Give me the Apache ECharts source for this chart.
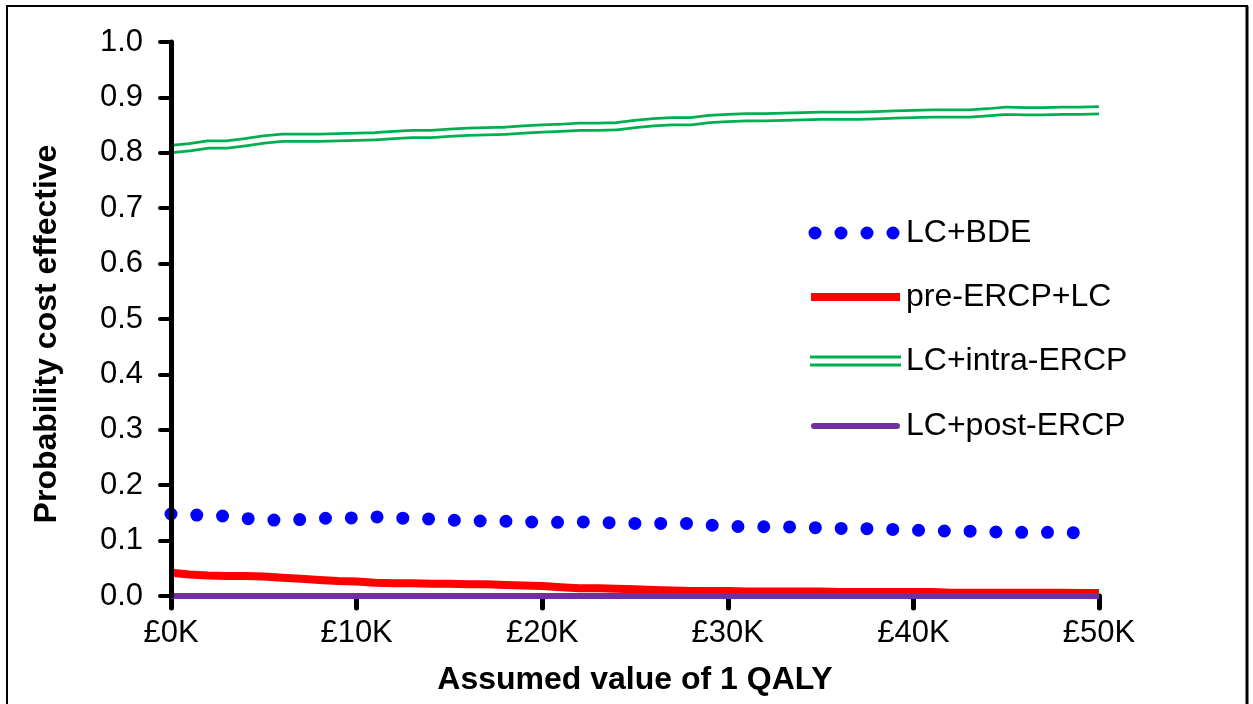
<!DOCTYPE html>
<html>
<head>
<meta charset="utf-8">
<title>Probability cost effective</title>
<script src="https://cdn.jsdelivr.net/npm/echarts@6/dist/echarts.min.js"></script>
<style>
  html, body { margin: 0; padding: 0; background: #fff; }
  #chart { width: 1253px; height: 704px; }
</style>
</head>
<body>
<div id="chart"></div>
<script>
// willingness to pay, £K
const qalyValue = [0, 1, 2, 3, 4, 5, 6, 7, 8, 9, 10, 11, 12, 13, 14, 15, 16, 17, 18, 19, 20,
  21, 22, 23, 24, 25, 26, 27, 28, 29, 30, 31, 32, 33, 34, 35, 36, 37, 38, 39, 40,
  41, 42, 43, 44, 45, 46, 47, 48, 49, 50];

const lcBde = [0.148, 0.146, 0.146, 0.144, 0.140, 0.137, 0.137, 0.138, 0.140, 0.141, 0.141,
  0.143, 0.141, 0.140, 0.139, 0.137, 0.136, 0.135, 0.135, 0.134, 0.133,
  0.133, 0.134, 0.133, 0.132, 0.131, 0.131, 0.131, 0.131, 0.128, 0.126,
  0.125, 0.125, 0.125, 0.124, 0.123, 0.122, 0.122, 0.121, 0.120, 0.119,
  0.118, 0.117, 0.117, 0.116, 0.115, 0.115, 0.115, 0.115, 0.114, 0.114];

const preErcpLc = [0.042, 0.039, 0.037, 0.036, 0.036, 0.035, 0.033, 0.031, 0.029, 0.027, 0.026,
  0.024, 0.023, 0.023, 0.022, 0.022, 0.021, 0.021, 0.020, 0.019, 0.018,
  0.016, 0.014, 0.014, 0.013, 0.012, 0.011, 0.010, 0.009, 0.009, 0.009,
  0.008, 0.008, 0.008, 0.008, 0.008, 0.007, 0.007, 0.007, 0.007, 0.007,
  0.007, 0.006, 0.006, 0.006, 0.006, 0.006, 0.006, 0.006, 0.0055, 0.0055];

const lcIntraErcp = [0.807, 0.810, 0.815, 0.815, 0.819, 0.824, 0.827, 0.827, 0.827, 0.828, 0.829,
  0.830, 0.832, 0.834, 0.834, 0.836, 0.838, 0.839, 0.840, 0.842, 0.844,
  0.845, 0.847, 0.847, 0.848, 0.852, 0.855, 0.857, 0.857, 0.861, 0.863,
  0.864, 0.864, 0.865, 0.866, 0.867, 0.867, 0.867, 0.868, 0.869, 0.870,
  0.871, 0.871, 0.871, 0.873, 0.876, 0.875, 0.875, 0.876, 0.876, 0.877];

const lcPostErcp = [0, 0, 0, 0, 0, 0, 0, 0, 0, 0, 0, 0, 0, 0, 0, 0, 0, 0, 0, 0, 0,
  0, 0, 0, 0, 0, 0, 0, 0, 0, 0, 0, 0, 0, 0, 0, 0, 0, 0, 0, 0,
  0, 0, 0, 0, 0, 0, 0, 0, 0, 0];

const seriesNames = ['LC+BDE', 'pre-ERCP+LC', 'LC+intra-ERCP', 'LC+post-ERCP'];
const seriesColors = ['#0000FF', '#FF0000', '#00B050', '#7030A0'];

const FONT = '"Liberation Sans", Arial, sans-serif';

function pairs(ys) {
  return qalyValue.map((x, i) => [x, ys[i]]);
}

const chart = echarts.init(document.getElementById('chart'), null, { renderer: 'canvas' });

// legend drawn by hand (dotted / double line styles)
const legX = 811, legW = 89, legTextX = 906;
const legRows = [233, 297, 361, 426];
let legend = [];
legend.push({
  type: 'line', shape: { x1: legX + 4, y1: legRows[0], x2: legX + 84, y2: legRows[0] },
  style: { stroke: seriesColors[0], lineWidth: 13, lineCap: 'round', lineDash: [0, 26] }
});
legend.push({
  type: 'line', shape: { x1: legX, y1: legRows[1], x2: legX + legW, y2: legRows[1] },
  style: { stroke: seriesColors[1], lineWidth: 8 }
});
legend.push({
  type: 'line', shape: { x1: legX - 1, y1: legRows[2] - 4, x2: legX + legW + 1, y2: legRows[2] - 4 },
  style: { stroke: seriesColors[2], lineWidth: 3 }
});
legend.push({
  type: 'line', shape: { x1: legX - 1, y1: legRows[2] + 4, x2: legX + legW + 1, y2: legRows[2] + 4 },
  style: { stroke: seriesColors[2], lineWidth: 3 }
});
legend.push({
  type: 'line', shape: { x1: legX + 3, y1: legRows[3], x2: legX + legW - 3, y2: legRows[3] },
  style: { stroke: seriesColors[3], lineWidth: 6, lineCap: 'round' }
});
seriesNames.forEach((name, i) => {
  legend.push({
    type: 'text', x: legTextX, y: legRows[i],
    style: { text: name, font: '32px ' + FONT, fill: '#000', textVerticalAlign: 'middle', textAlign: 'left' }
  });
});

const option = {
  animation: false,
  backgroundColor: '#fff',
  grid: { left: 171, top: 42, width: 928, height: 554, containLabel: false },
  xAxis: {
    type: 'value', min: 0, max: 50, interval: 10,
    name: 'Assumed value of 1 QALY', nameLocation: 'middle', nameGap: 68,
    nameTextStyle: { fontFamily: FONT, fontSize: 32, fontWeight: 'bold', color: '#000' },
    axisLine: { show: true, lineStyle: { color: '#000', width: 2 } },
    axisTick: { show: true, length: 12, lineStyle: { color: '#000', width: 5, cap: 'round' } },
    axisLabel: { fontFamily: FONT, fontSize: 31, color: '#000', margin: 22, formatter: v => '£' + v + 'K' },
    splitLine: { show: false }
  },
  yAxis: {
    type: 'value', min: 0, max: 1, interval: 0.1, z: 10,
    axisLine: { show: true, lineStyle: { color: '#000', width: 5, cap: 'round' } },
    axisTick: { show: true, length: 11, lineStyle: { color: '#000', width: 4, cap: 'round' } },
    axisLabel: { fontFamily: FONT, fontSize: 31, color: '#000', margin: 28, formatter: v => v.toFixed(1) },
    splitLine: { show: false }
  },
  series: [
    {
      name: seriesNames[0], type: 'line', data: pairs(lcBde), symbol: 'none', clip: false,
      lineStyle: { color: seriesColors[0], width: 13, cap: 'round', type: [0, 25.8] }
    },
    {
      name: seriesNames[1], type: 'line', data: pairs(preErcpLc), symbol: 'none', clip: false,
      lineStyle: { color: seriesColors[1], width: 8 }
    },
    {
      name: seriesNames[2], type: 'line', data: pairs(lcIntraErcp), symbol: 'none', clip: false,
      lineStyle: { color: seriesColors[2], width: 10 }
    },
    {
      // white core makes the double line
      name: seriesNames[2] + ' core', type: 'line', data: pairs(lcIntraErcp), symbol: 'none', clip: false,
      lineStyle: { color: '#fff', width: 4.5 }
    },
    {
      name: seriesNames[3], type: 'line', data: pairs(lcPostErcp), symbol: 'none', clip: false,
      lineStyle: { color: seriesColors[3], width: 6 }
    }
  ],
  graphic: [
    { type: 'rect', shape: { x: 7, y: 6, width: 1240, height: 720 }, style: { fill: 'none', stroke: '#000', lineWidth: 2 }, z: 0 },
    { type: 'line', shape: { x1: 1247, y1: 6, x2: 1247, y2: 704 }, style: { stroke: '#000', lineWidth: 3 } },
    // y axis title sits a little below the plot centre, as in the original
    {
      type: 'text', x: 47, y: 334, rotation: Math.PI / 2,
      style: { text: 'Probability cost effective', font: 'bold 32px ' + FONT, fill: '#000', textAlign: 'center', textVerticalAlign: 'middle' }
    }
  ].concat(legend)
};

chart.setOption(option);
</script>
</body>
</html>
